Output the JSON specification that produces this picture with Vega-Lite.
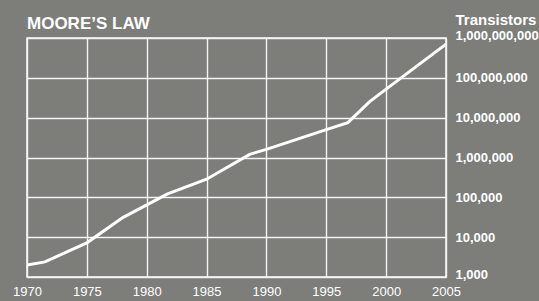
{
  "$schema": "https://vega.github.io/schema/vega-lite/v6.json",
  "autosize": "none",
  "width": 419,
  "height": 239,
  "padding": {"left": 27, "top": 38, "right": 93, "bottom": 24},
  "background": "#7d7e7a",
  "title": {
    "text": "MOORE\u2019S LAW",
    "anchor": "start",
    "frame": "group",
    "font": "Liberation Sans",
    "fontSize": 17,
    "fontWeight": "bold",
    "color": "#ffffff",
    "baseline": "alphabetic",
    "offset": -14,
    "dy": 20
  },
  "config": {
    "view": {"stroke": "#ffffff", "strokeWidth": 1.5},
    "axis": {
      "labelFont": "Liberation Sans",
      "titleFont": "Liberation Sans",
      "labelColor": "#ffffff",
      "titleColor": "#ffffff",
      "gridColor": "#f4f4f4",
      "gridOpacity": 1,
      "gridWidth": 1.4,
      "ticks": false,
      "domain": false
    }
  },
  "data": {
    "values": [
      {"year": 1970, "transistors": 2000},
      {"year": 1971.5, "transistors": 2400},
      {"year": 1973.7, "transistors": 4800},
      {"year": 1975, "transistors": 7200},
      {"year": 1978, "transistors": 31000},
      {"year": 1981.7, "transistors": 120000},
      {"year": 1985, "transistors": 285000},
      {"year": 1988.6, "transistors": 1200000},
      {"year": 1990, "transistors": 1600000},
      {"year": 1995, "transistors": 5000000},
      {"year": 1996.8, "transistors": 7500000},
      {"year": 1998.6, "transistors": 25000000},
      {"year": 2000, "transistors": 52000000},
      {"year": 2005, "transistors": 700000000}
    ]
  },
  "mark": {"type": "line", "color": "#ffffff", "strokeWidth": 3, "clip": true},
  "encoding": {
    "x": {
      "field": "year",
      "type": "quantitative",
      "scale": {"domain": [1970, 2005], "nice": false, "zero": false},
      "axis": {
        "title": null,
        "values": [1970, 1975, 1980, 1985, 1990, 1995, 2000, 2005],
        "format": "d",
        "labelFontSize": 13,
        "labelPadding": 8,
        "labelFlush": false,
        "grid": true
      }
    },
    "y": {
      "field": "transistors",
      "type": "quantitative",
      "scale": {"type": "log", "domain": [1000, 1000000000], "nice": false},
      "axis": {
        "orient": "right",
        "title": "Transistors",
        "titleAngle": 0,
        "titleAlign": "left",
        "titleBaseline": "alphabetic",
        "titleFontSize": 15,
        "titleFontWeight": "bold",
        "titleX": 9,
        "titleY": -14,
        "values": [1000, 10000, 100000, 1000000, 10000000, 100000000, 1000000000],
        "format": ",d",
        "labelFontSize": 13,
        "labelFontWeight": "bold",
        "labelPadding": 9,
        "labelBaseline": "middle",
        "labelFlush": false,
        "labelOffset": {"condition": {"test": "datum.value == 1000 || datum.value == 1000000000", "value": -3}, "value": 0},
        "grid": true
      }
    }
  }
}
